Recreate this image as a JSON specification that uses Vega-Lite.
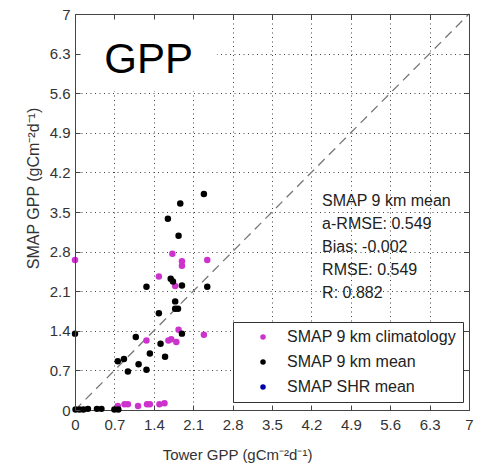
{
  "$schema": "https://vega.github.io/schema/vega-lite/v6.json",
  "width": 394,
  "height": 396,
  "autosize": "none",
  "padding": {"left": 75, "top": 14, "right": 12, "bottom": 53},
  "background": "white",
  "config": {
    "font": "Liberation Sans",
    "view": {"stroke": null},
    "axis": {
      "labelFont": "Liberation Sans",
      "titleFont": "Liberation Sans",
      "labelFontSize": 15,
      "titleFontSize": 15,
      "labelColor": "#333",
      "titleColor": "#333",
      "titleFontWeight": "normal",
      "labelFlush": false,
      "tickSize": -5,
      "tickColor": "#444",
      "domainColor": "#444",
      "gridColor": "#444",
      "gridDash": [1, 3.5],
      "gridWidth": 1
    }
  },
  "datasets": {
    "pts": [
      {"x": 0, "y": 2.65, "series": "SMAP 9 km climatology"},
      {"x": 1.73, "y": 2.76, "series": "SMAP 9 km climatology"},
      {"x": 1.9, "y": 2.63, "series": "SMAP 9 km climatology"},
      {"x": 1.9, "y": 2.55, "series": "SMAP 9 km climatology"},
      {"x": 2.35, "y": 2.65, "series": "SMAP 9 km climatology"},
      {"x": 1.49, "y": 2.36, "series": "SMAP 9 km climatology"},
      {"x": 1.78, "y": 2.19, "series": "SMAP 9 km climatology"},
      {"x": 1.84, "y": 1.42, "series": "SMAP 9 km climatology"},
      {"x": 2.29, "y": 1.33, "series": "SMAP 9 km climatology"},
      {"x": 1.27, "y": 1.23, "series": "SMAP 9 km climatology"},
      {"x": 1.66, "y": 1.23, "series": "SMAP 9 km climatology"},
      {"x": 1.71, "y": 1.25, "series": "SMAP 9 km climatology"},
      {"x": 1.8, "y": 1.2, "series": "SMAP 9 km climatology"},
      {"x": 0.76, "y": 0.07, "series": "SMAP 9 km climatology"},
      {"x": 0.88, "y": 0.1, "series": "SMAP 9 km climatology"},
      {"x": 0.94, "y": 0.1, "series": "SMAP 9 km climatology"},
      {"x": 1.12, "y": 0.07, "series": "SMAP 9 km climatology"},
      {"x": 1.28, "y": 0.1, "series": "SMAP 9 km climatology"},
      {"x": 1.33, "y": 0.1, "series": "SMAP 9 km climatology"},
      {"x": 1.5, "y": 0.1, "series": "SMAP 9 km climatology"},
      {"x": 1.59, "y": 0.12, "series": "SMAP 9 km climatology"},
      {"x": 2.29, "y": 3.82, "series": "SMAP 9 km mean"},
      {"x": 1.87, "y": 3.65, "series": "SMAP 9 km mean"},
      {"x": 1.65, "y": 3.38, "series": "SMAP 9 km mean"},
      {"x": 1.84, "y": 3.08, "series": "SMAP 9 km mean"},
      {"x": 1.27, "y": 2.18, "series": "SMAP 9 km mean"},
      {"x": 1.7, "y": 2.32, "series": "SMAP 9 km mean"},
      {"x": 1.74, "y": 2.27, "series": "SMAP 9 km mean"},
      {"x": 1.9, "y": 2.2, "series": "SMAP 9 km mean"},
      {"x": 2.35, "y": 2.18, "series": "SMAP 9 km mean"},
      {"x": 1.78, "y": 1.92, "series": "SMAP 9 km mean"},
      {"x": 1.78, "y": 1.79, "series": "SMAP 9 km mean"},
      {"x": 1.83, "y": 1.79, "series": "SMAP 9 km mean"},
      {"x": 1.49, "y": 1.71, "series": "SMAP 9 km mean"},
      {"x": 1.9, "y": 1.35, "series": "SMAP 9 km mean"},
      {"x": 1.08, "y": 1.29, "series": "SMAP 9 km mean"},
      {"x": 1.52, "y": 1.17, "series": "SMAP 9 km mean"},
      {"x": 1.33, "y": 1.0, "series": "SMAP 9 km mean"},
      {"x": 1.6, "y": 0.94, "series": "SMAP 9 km mean"},
      {"x": 0.87, "y": 0.9, "series": "SMAP 9 km mean"},
      {"x": 0.76, "y": 0.86, "series": "SMAP 9 km mean"},
      {"x": 1.13, "y": 0.81, "series": "SMAP 9 km mean"},
      {"x": 0.94, "y": 0.68, "series": "SMAP 9 km mean"},
      {"x": 1.27, "y": 0.71, "series": "SMAP 9 km mean"},
      {"x": 0, "y": 1.35, "series": "SMAP 9 km mean"},
      {"x": 0.01, "y": 0.01, "series": "SMAP 9 km mean"},
      {"x": 0.08, "y": 0.01, "series": "SMAP 9 km mean"},
      {"x": 0.15, "y": 0.01, "series": "SMAP 9 km mean"},
      {"x": 0.23, "y": 0.02, "series": "SMAP 9 km mean"},
      {"x": 0.39, "y": 0.02, "series": "SMAP 9 km mean"},
      {"x": 0.47, "y": 0.02, "series": "SMAP 9 km mean"},
      {"x": 0.7, "y": 0.01, "series": "SMAP 9 km mean"},
      {"x": 0.77, "y": 0.01, "series": "SMAP 9 km mean"}
    ],
    "oneToOne": [{"x": 0, "y": 0}, {"x": 7, "y": 7}]
  },
  "resolve": {"axis": {"x": "independent", "y": "independent"}},
  "layer": [
    {
      "data": {"name": "oneToOne"},
      "mark": {"type": "line", "color": "#777", "strokeWidth": 1.3, "strokeDash": [9, 6]},
      "encoding": {
        "x": {"field": "x", "type": "quantitative", "scale": {"domain": [0, 7], "nice": false},
          "axis": {"orient": "top", "values": [0, 0.7, 1.4, 2.1, 2.8, 3.5, 4.2, 4.9, 5.6, 6.3, 7], "labels": false, "grid": false, "title": null, "zindex": 1}},
        "y": {"field": "y", "type": "quantitative", "scale": {"domain": [0, 7], "nice": false},
          "axis": {"orient": "right", "values": [0, 0.7, 1.4, 2.1, 2.8, 3.5, 4.2, 4.9, 5.6, 6.3, 7], "labels": false, "grid": true, "title": null, "zindex": 0}}
      }
    },
    {
      "data": {"name": "pts"},
      "mark": {"type": "circle", "size": 42, "opacity": 1},
      "encoding": {
        "x": {"field": "x", "type": "quantitative", "scale": {"domain": [0, 7], "nice": false},
          "axis": {"orient": "bottom", "values": [0, 0.7, 1.4, 2.1, 2.8, 3.5, 4.2, 4.9, 5.6, 6.3, 7], "format": "~g", "grid": true, "zindex": 0, "labelPadding": 12,
            "title": "Tower GPP (gCm⁻²d⁻¹)", "titleX": 162, "titleY": 44, "titleBaseline": "middle"}},
        "y": {"field": "y", "type": "quantitative", "scale": {"domain": [0, 7], "nice": false},
          "axis": {"orient": "left", "values": [0, 0.7, 1.4, 2.1, 2.8, 3.5, 4.2, 4.9, 5.6, 6.3, 7], "format": "~g", "grid": false, "zindex": 1, "labelPadding": 10,
            "title": "SMAP GPP (gCm⁻²d⁻¹)", "titleFontSize": 16, "titleX": -42, "titleY": 174, "titleBaseline": "middle"}},
        "color": {"field": "series", "type": "nominal",
          "scale": {"domain": ["SMAP 9 km climatology", "SMAP 9 km mean", "SMAP SHR mean"], "range": ["#cc33cc", "#000000", "#0000aa"]},
          "legend": {"orient": "none", "legendX": 158, "legendY": 308, "title": null, "fillColor": "white", "strokeColor": "#333",
            "padding": 7, "symbolType": "circle", "symbolSize": 30, "symbolOffset": 15, "labelOffset": 16, "labelFontSize": 16, "labelColor": "#222", "labelLimit": 300, "rowPadding": 9}}
      }
    },
    {
      "data": {"values": [{}]},
      "mark": {"type": "rect", "fill": "white"},
      "encoding": {
        "x": {"datum": 0.02, "type": "quantitative", "axis": null},
        "x2": {"datum": 2.52},
        "y": {"datum": 5.63, "type": "quantitative", "axis": null},
        "y2": {"datum": 6.98}
      }
    },
    {
      "data": {"values": [{}]},
      "mark": {"type": "text", "text": "GPP", "fontSize": 42, "align": "left", "baseline": "alphabetic", "color": "black"},
      "encoding": {
        "x": {"datum": 0.52, "type": "quantitative", "axis": null},
        "y": {"datum": 5.96, "type": "quantitative", "axis": null}
      }
    },
    {
      "data": {"values": [{}]},
      "mark": {"type": "text", "text": ["SMAP 9 km mean", "a-RMSE: 0.549", "Bias: -0.002", "RMSE: 0.549", "R: 0.882"], "fontSize": 16, "lineHeight": 23, "align": "left", "baseline": "middle", "color": "#222"},
      "encoding": {
        "x": {"datum": 4.39, "type": "quantitative", "axis": null},
        "y": {"datum": 3.69, "type": "quantitative", "axis": null}
      }
    }
  ]
}
